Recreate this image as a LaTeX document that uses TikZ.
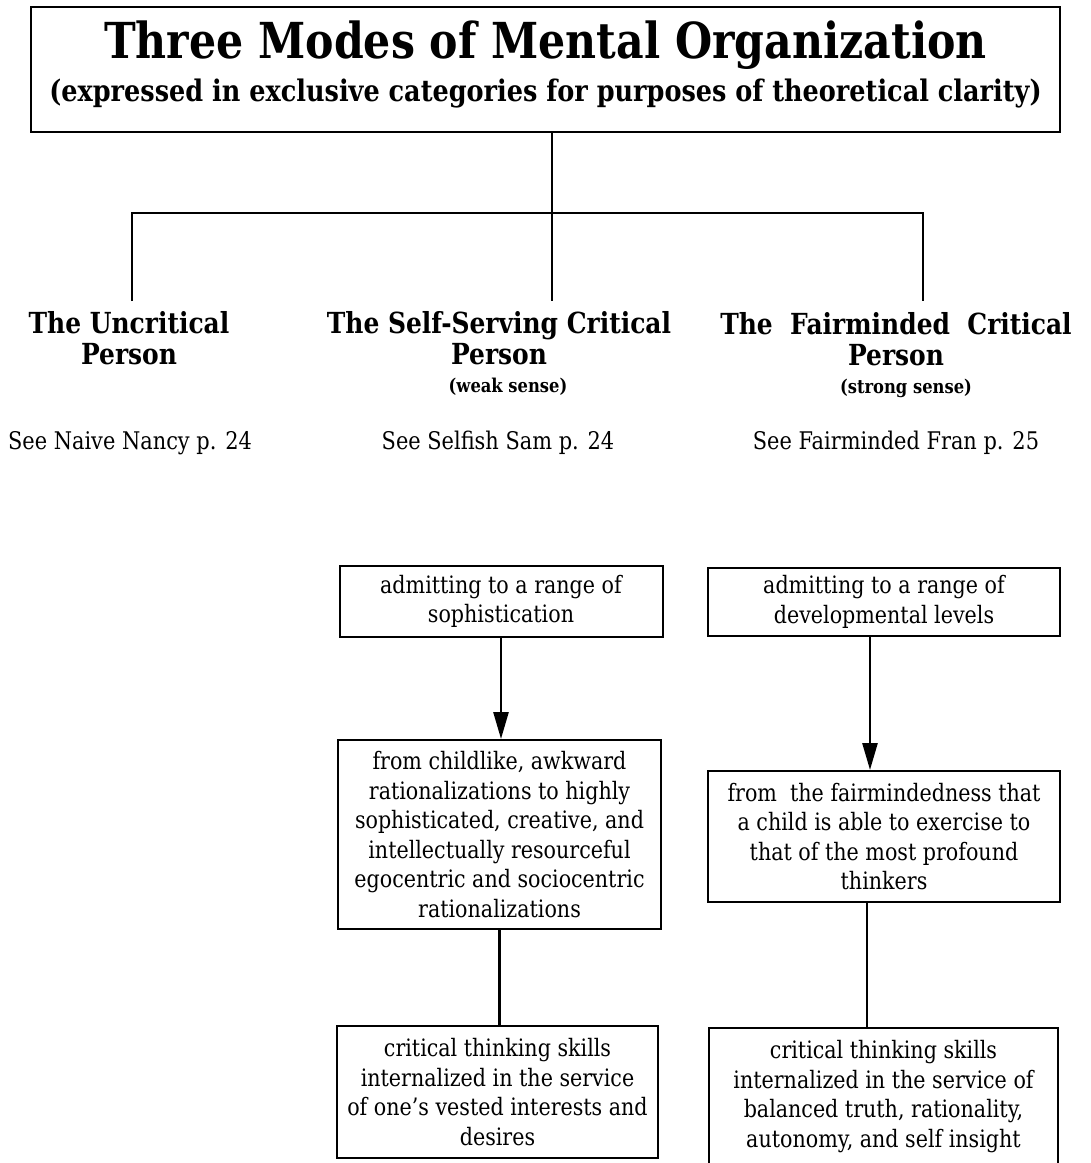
\documentclass[tikz,border=0pt]{standalone}
\usepackage{fontspec}
\setmainfont{DejaVu Serif}[FakeStretch=0.86]
\usetikzlibrary{arrows.meta}

\begin{document}
\begin{tikzpicture}[x=1pt,y=-1pt,
   box/.style={draw,line width=2pt,minimum width=323pt,align=center,inner sep=0pt,
               font=\fontsize{24}{29.5}\selectfont},
   head/.style={align=center,font=\fontsize{29}{31}\selectfont\bfseries},
   note/.style={font=\fontsize{19}{22}\selectfont\bfseries},
   seeref/.style={font=\fontsize{24.3}{27}\selectfont},
   link/.style={line width=2pt},
   flow/.style={line width=2.6pt,-{Triangle[length=27pt,width=15pt]}}]
  \path[use as bounding box,clip] (0,0) rectangle (1091,1163);
  % title box
  \node[draw,line width=2.2pt,minimum width=1029pt,minimum height=125pt,align=center,
        font=\fontsize{29.7}{43}\selectfont\bfseries] (title) at (545.5,69.5)
       {{\fontsize{49.6}{43}\selectfont Three Modes of Mental Organization}\\
        (expressed in exclusive categories for purposes of theoretical clarity)\rule[-17pt]{0pt}{0pt}};
  % the three modes
  \node[head] (uncrit) at (129,338) {The Uncritical\\Person};
  \node[head] (selfserv) at (499,338) {The Self-Serving Critical\\Person};
  \node[head] (fairm) at (896,339) {The\ \ Fairminded\ \ Critical\\Person};
  \node[note] (weak) at (508,387) {(weak sense)};
  \node[note] (strong) at (906,388) {(strong sense)};
  \node[seeref] (nancy) at (130,443) {See Naive Nancy p. 24};
  \node[seeref] (sam) at (498,443) {See Selfish Sam p. 24};
  \node[seeref] (fran) at (896,443) {See Fairminded Fran p. 25};
  % tree
  \coordinate (hub) at (552,213);
  \coordinate (lft) at (132,301);
  \coordinate (mid) at (552,301);
  \coordinate (rgt) at (923,301);
  \draw[link] (title.south -| hub) -- (mid);
  \draw[link] (lft) |- (rgt |- hub) -- (rgt);
  % weak sense column
  \node[box,minimum height=71pt] (soph) at (501,601.5)
       {admitting to a range of\\sophistication};
  \node[box,minimum height=189pt] (rat) at (499.5,834.5)
       {from childlike, awkward\\rationalizations to highly\\sophisticated, creative, and\\intellectually resourceful\\egocentric and sociocentric\\rationalizations};
  \node[box,minimum width=321pt,minimum height=132pt] (vested) at (497.5,1092)
       {critical thinking skills\\internalized in the service\\of one's vested interests and\\desires};
  % strong sense column
  \node[box,minimum width=352pt,minimum height=68pt] (devel) at (884,602)
       {admitting to a range of\\developmental levels};
  \node[box,minimum width=352pt,minimum height=131pt] (fair) at (884,836.5)
       {from\ \ the fairmindedness that\\a child is able to exercise to\\that of the most profound\\thinkers};
  \node[box,minimum width=349pt,minimum height=137pt] (truth) at (883.5,1096.5)
       {critical thinking skills\\internalized in the service of\\balanced truth, rationality,\\autonomy, and self insight};
  % connectors
  \draw[flow] (soph.south) -- (soph.south |- rat.north);
  \draw[link,line width=2.6pt] (rat.south) -- (rat.south |- vested.north);
  \draw[flow] ([xshift=-14pt]devel.south) -- ([xshift=-14pt]devel.south |- fair.north);
  \draw[link,line width=2.6pt] ([xshift=-17pt]fair.south) -- ([xshift=-17pt]fair.south |- truth.north);
\end{tikzpicture}
\end{document}
